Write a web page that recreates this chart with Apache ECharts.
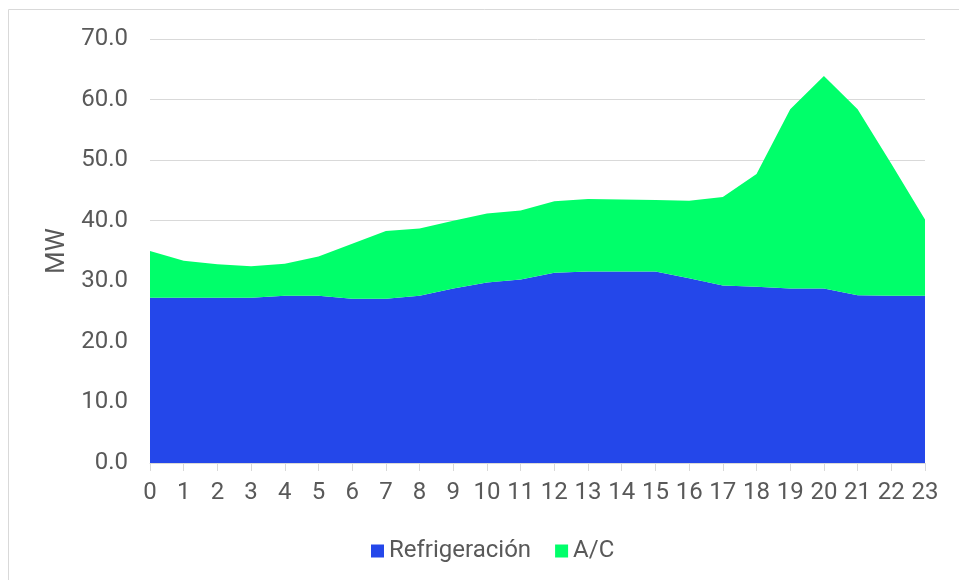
<!DOCTYPE html>
<html>
<head>
<meta charset="utf-8">
<script src="https://cdn.jsdelivr.net/npm/echarts@6/dist/echarts.min.js"></script>
<style>
html,body{margin:0;padding:0;background:#fff;}
#c{width:959px;height:580px;}
</style>
</head>
<body>
<div id="c"></div>
<script>
const hours = ['0','1','2','3','4','5','6','7','8','9','10','11','12','13','14','15','16','17','18','19','20','21','22','23'];
const refrigeracion = [27.3,27.3,27.3,27.3,27.6,27.6,27.1,27.1,27.6,28.8,29.8,30.3,31.4,31.6,31.6,31.6,30.5,29.3,29.1,28.8,28.8,27.7,27.6,27.6];
const totalTop = [35.0,33.4,32.8,32.5,32.9,34.1,36.2,38.3,38.7,40.0,41.2,41.7,43.2,43.6,43.5,43.4,43.3,43.9,47.7,58.4,63.9,58.4,49.4,40.2];
const ac = totalTop.map((t,i)=>+(t-refrigeracion[i]).toFixed(1));
const yTicks = {min:0, max:70, interval:10};

const chart = echarts.init(document.getElementById('c'), null, {renderer:'canvas'});
const txt = '#595959';
chart.setOption({
  animation:false,
  textStyle:{fontFamily:'Roboto'},
  graphic:[{type:'rect', shape:{x:8.5,y:9.5,width:1000,height:1000}, style:{fill:'none',stroke:'#d9d9d9',lineWidth:1}, silent:true}],
  grid:{left:150,right:34,top:39,bottom:117,containLabel:false},
  legend:{
    data:[{name:'Refrigeración'},{name:'A/C'}],
    top:534, left:366, icon:'rect', itemWidth:13, itemHeight:13, itemGap:24,
    textStyle:{color:txt,fontSize:24,fontFamily:'Roboto'}
  },
  xAxis:{
    type:'category', data:hours, boundaryGap:false,
    axisLine:{lineStyle:{color:'#d9d9d9'}},
    axisTick:{show:true,length:8,lineStyle:{color:'#d9d9d9'}},
    axisLabel:{color:txt,fontSize:24,margin:18,interval:0},
    splitLine:{show:false}
  },
  yAxis:{
    type:'value', min:yTicks.min, max:yTicks.max, interval:yTicks.interval,
    name:'MW', nameLocation:'middle', nameGap:79, nameRotate:90,
    nameTextStyle:{color:txt,fontSize:26,fontFamily:'Roboto'},
    axisLine:{show:false}, axisTick:{show:false},
    axisLabel:{color:txt,fontSize:24,margin:22,formatter:v=>v.toFixed(1)},
    splitLine:{lineStyle:{color:'#d9d9d9',width:1}}
  },
  series:[
    {name:'Refrigeración',type:'line',stack:'t',data:refrigeracion,showSymbol:false,symbol:'none',
     lineStyle:{width:0},areaStyle:{color:'#2447EA',opacity:1},itemStyle:{color:'#2447EA'}},
    {name:'A/C',type:'line',stack:'t',data:ac,showSymbol:false,symbol:'none',
     lineStyle:{width:0},areaStyle:{color:'#00FF6A',opacity:1},itemStyle:{color:'#00FF6A'}}
  ]
});
</script>
</body>
</html>
